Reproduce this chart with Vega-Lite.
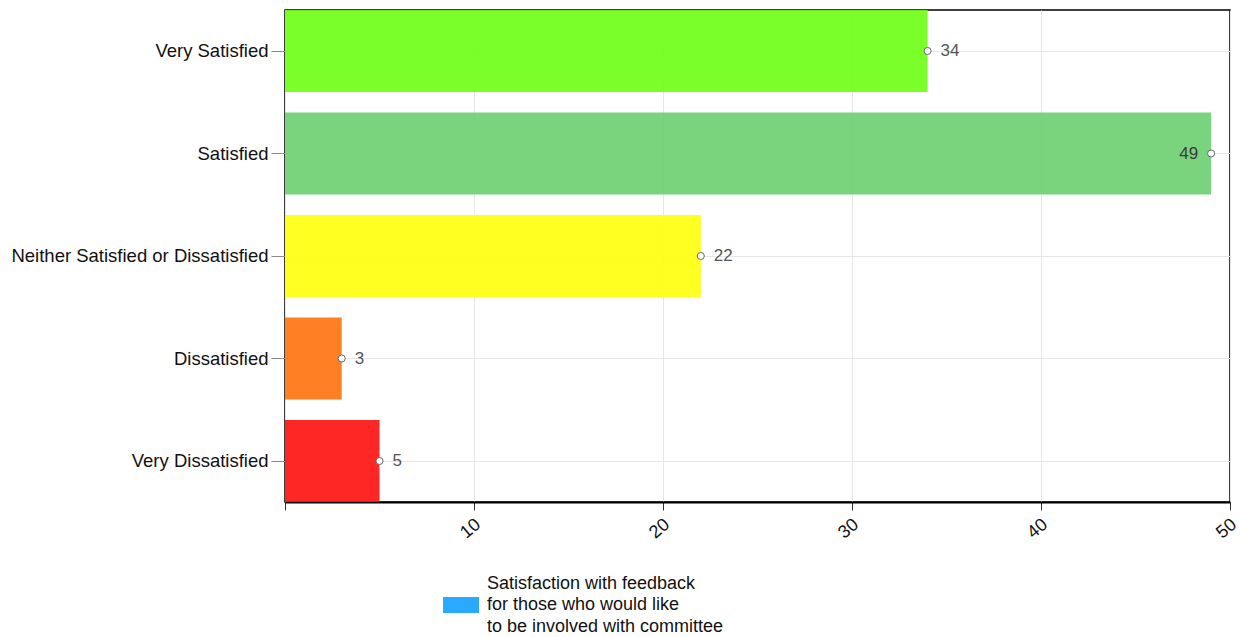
{
  "$schema": "https://vega.github.io/schema/vega-lite/v6.json",
  "autosize": {"type": "none"},
  "width": 945,
  "height": 492,
  "padding": {"left": 285, "top": 10, "right": 17, "bottom": 135},
  "background": "white",
  "config": {
    "font": "Liberation Sans",
    "view": {"stroke": "black", "strokeWidth": 1.5}
  },
  "data": {
    "values": [
      {"category": "Very Satisfied", "value": 34},
      {"category": "Satisfied", "value": 49},
      {"category": "Neither Satisfied or Dissatisfied", "value": 22},
      {"category": "Dissatisfied", "value": 3},
      {"category": "Very Dissatisfied", "value": 5}
    ]
  },
  "encoding": {
    "y": {
      "field": "category",
      "type": "nominal",
      "sort": null,
      "scale": {"paddingInner": 0.2, "paddingOuter": 0},
      "axis": {
        "title": null,
        "labelFontSize": 18.5,
        "labelColor": "#111",
        "labelLimit": 0,
        "labelPadding": 3,
        "tickSize": 14,
        "tickColor": "#888",
        "domain": false,
        "grid": true,
        "gridColor": "#e6e6e6",
        "bandPosition": 0.5
      }
    },
    "x": {
      "field": "value",
      "type": "quantitative",
      "scale": {"domain": [0, 50], "nice": false},
      "axis": {
        "title": null,
        "values": [0, 10, 20, 30, 40, 50],
        "labelExpr": "datum.value == 0 ? '' : datum.label",
        "labelFontSize": 18,
        "labelColor": "#111",
        "labelAngle": -40,
        "labelAlign": "right",
        "labelBaseline": "middle",
        "labelPadding": 12,
        "labelOffset": 4,
        "tickSize": 8,
        "tickColor": "#333",
        "domainColor": "black",
        "domainWidth": 2,
        "grid": true,
        "gridColor": "#e6e6e6"
      }
    }
  },
  "layer": [
    {
      "mark": {"type": "bar", "opacity": 0.9},
      "encoding": {
        "fill": {
          "field": "category",
          "type": "nominal",
          "scale": {
            "domain": ["Very Satisfied", "Satisfied", "Neither Satisfied or Dissatisfied", "Dissatisfied", "Very Dissatisfied"],
            "range": ["#6cff13", "#6ccf70", "#ffff09", "#ff710c", "#ff0e0e"]
          },
          "legend": null
        }
      }
    },
    {
      "mark": {"type": "point", "filled": true, "fill": "white", "stroke": "#666", "strokeWidth": 1, "size": 50, "opacity": 1}
    },
    {
      "transform": [{"filter": "datum.value < 45"}],
      "mark": {"type": "text", "align": "left", "baseline": "middle", "dx": 13, "fontSize": 17, "color": "#555"},
      "encoding": {"text": {"field": "value", "type": "quantitative"}}
    },
    {
      "transform": [{"filter": "datum.value >= 45"}],
      "mark": {"type": "text", "align": "right", "baseline": "middle", "dx": -13, "fontSize": 17, "color": "#3a3a3a"},
      "encoding": {"text": {"field": "value", "type": "quantitative"}}
    },
    {
      "data": {"values": [{"series": "Satisfaction with feedback|for those who would like|to be involved with committee", "v": 0, "c": "Very Satisfied"}]},
      "mark": {"type": "square", "size": 0},
      "encoding": {
        "x": {"field": "v", "type": "quantitative"},
        "y": {"field": "c", "type": "nominal"},
        "color": {
          "field": "series",
          "type": "nominal",
          "scale": {"range": ["#29aaff"]},
          "legend": {
            "title": null,
            "orient": "none",
            "legendX": 158,
            "legendY": 577,
            "symbolType": "M-1,-0.44H1V0.44H-1Z",
            "symbolSize": 1296,
            "symbolOpacity": 1,
            "symbolStrokeWidth": 0,
            "labelExpr": "split(datum.label, '|')",
            "labelFontSize": 18,
            "labelColor": "#111",
            "labelLimit": 0,
            "labelOffset": 8,
            "encode": {
              "labels": {"update": {"dy": {"value": -21.5}, "lineHeight": {"value": 21.5}}}
            }
          }
        }
      }
    }
  ]
}
